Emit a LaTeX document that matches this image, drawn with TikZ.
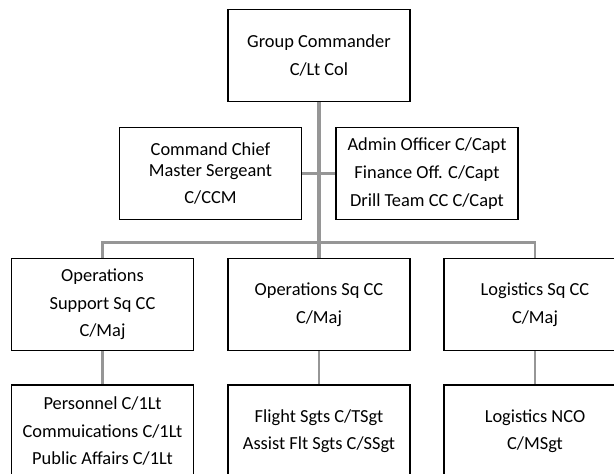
\documentclass[tikz,border=0pt]{standalone}
\usepackage{fontspec}
\setmainfont{Carlito}
\definecolor{conn}{RGB}{150,150,150}
\begin{document}
\begin{tikzpicture}[x=1pt,y=-1pt,
  orgbox/.style={draw=black, line width=1.4pt, fill=white, minimum width=182pt, minimum height=92.4pt,
    inner sep=0pt, align=center, font=\fontsize{18.4}{27.7}\selectfont},
  trunk/.style={draw=conn, line width=4pt},
  link/.style={draw=conn, line width=2.8pt}]
\useasboundingbox (0,0) rectangle (614,474);
\clip (0,0) rectangle (614,474);
% row 1
\node[orgbox] (gc) at (319,55.5) {Group Commander\\C/Lt Col};
% row 2
\node[orgbox] (ccm) at (210.5,173.5) {Command Chief\\[-6.7pt]Master Sergeant\\C/CCM};
\node[orgbox] (adm) at (427,173.5) {Admin Officer C/Capt\\Finance Off. C/Capt\\Drill Team CC C/Capt};
% row 3
\node[orgbox] (opsup) at (102.5,304.5) {Operations\\Support Sq CC\\C/Maj};
\node[orgbox] (opsq) at (319,304.5) {Operations Sq CC\\C/Maj};
\node[orgbox] (logsq) at (535,304.5) {Logistics Sq CC\\C/Maj};
% row 4
\node[orgbox] (pers) at (102.5,431.2) {Personnel C/1Lt\\Commuications C/1Lt\\Public Affairs C/1Lt};
\node[orgbox] (flt) at (319,431.2) {Flight Sgts C/TSgt\\Assist Flt Sgts C/SSgt};
\node[orgbox] (lognco) at (535,431.2) {Logistics NCO\\C/MSgt};
% connectors
\coordinate (bus) at (319,242.7);
\draw[trunk] (gc.south) -- (opsq.north);
\draw[link] (ccm.east) -- (adm.west);
\draw[link] (opsup.north) -- (opsup.north |- bus) -- (logsq.north |- bus) -- (logsq.north);
\draw[link] (opsup.south) -- (pers.north);
\draw[link] (opsq.south) -- (flt.north);
\draw[link] (logsq.south) -- (lognco.north);
\end{tikzpicture}
\end{document}
